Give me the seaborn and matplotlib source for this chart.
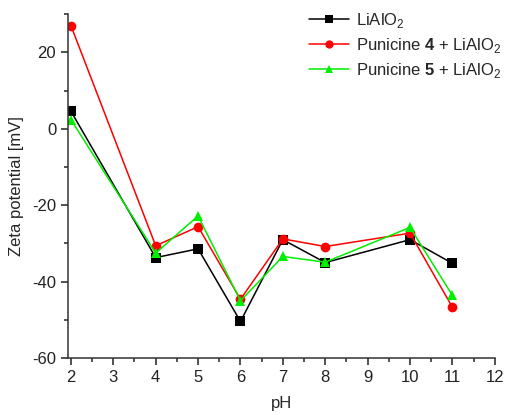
import pandas as pd
import numpy as np
import matplotlib
matplotlib.use("Agg")
import matplotlib.pyplot as plt
import seaborn as sns
from matplotlib.ticker import MultipleLocator

ph = [2, 4, 5, 6, 7, 8, 10, 11]
lialo2 = [4.6, -33.7, -31.4, -50.4, -29.0, -35.0, -29.0, -35.2]
pun4 = [27.0, -30.6, -25.6, -44.6, -28.8, -30.8, -27.3, -46.7]
pun5 = [2.4, -32.5, -22.8, -45.0, -33.4, -34.9, -25.8, -43.6]

names = ["LiAlO$_2$", "Punicine $\\mathbf{4}$ + LiAlO$_2$", "Punicine $\\mathbf{5}$ + LiAlO$_2$"]
colors = ["black", "#ff0000", "#00ee00"]
marks = ["s", "o", "^"]

df = pd.DataFrame({
    "pH": ph * 3,
    "zeta": lialo2 + pun4 + pun5,
    "series": [names[0]] * len(ph) + [names[1]] * len(ph) + [names[2]] * len(ph),
})

sns.set_style("ticks")
plt.rcParams["font.family"] = ["Liberation Sans", "DejaVu Sans"]
plt.rcParams["mathtext.fontset"] = "custom"
plt.rcParams["mathtext.rm"] = "Liberation Sans"
plt.rcParams["mathtext.bf"] = "Liberation Sans:bold"
plt.rcParams["axes.unicode_minus"] = False

fig = plt.figure(figsize=(5.07, 4.15), dpi=100)
ax = fig.add_axes([0.134, 0.137, 0.842, 0.829])

sns.lineplot(data=df, x="pH", y="zeta", hue="series", style="series",
             palette=dict(zip(names, colors)), markers=dict(zip(names, marks)),
             dashes=False, markersize=7, markeredgewidth=0, linewidth=1.1,
             ax=ax)

ax.set_xlim(1.93, 12)
ax.set_ylim(-60, 30)
ax.xaxis.set_major_locator(MultipleLocator(1))
ax.xaxis.set_minor_locator(MultipleLocator(0.5))
ax.yaxis.set_major_locator(MultipleLocator(20))
ax.yaxis.set_minor_locator(MultipleLocator(10))
ax.tick_params(which="major", direction="out", length=5, width=1.1, labelsize=12, colors="#222222")
ax.tick_params(which="minor", direction="out", length=3, width=1.1)
for s in ["left", "bottom"]:
    ax.spines[s].set_linewidth(1.1)
    ax.spines[s].set_color("#333333")
sns.despine(ax=ax)

ax.set_xlabel("pH", fontsize=12, labelpad=8)
ax.set_ylabel("Zeta potential [mV]", fontsize=12, labelpad=6)

leg = ax.legend(loc="upper right", frameon=False, fontsize=12, handlelength=2.4,
                bbox_to_anchor=(1.05, 1.052), labelspacing=0.35, handletextpad=0.4,
                markerscale=0.85)

fig.savefig("out.png", dpi=100)
